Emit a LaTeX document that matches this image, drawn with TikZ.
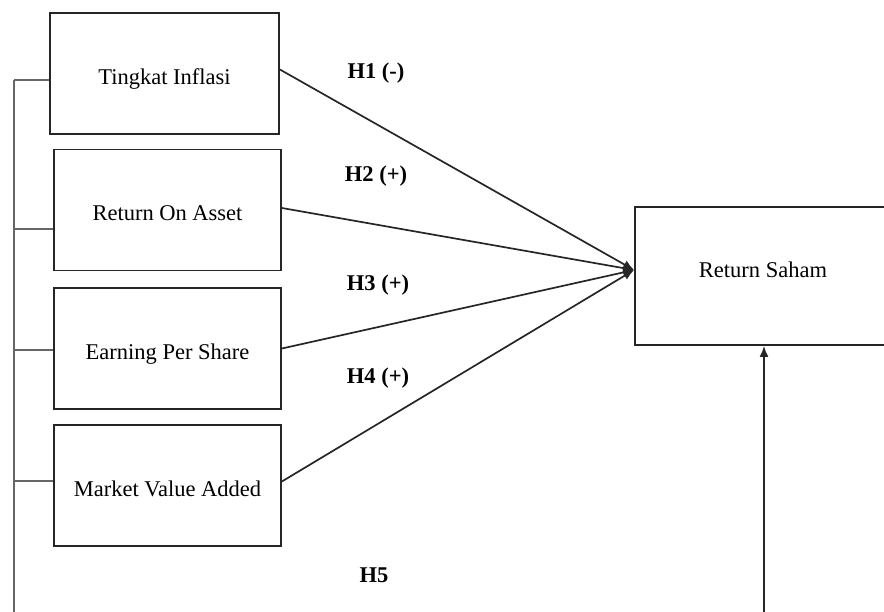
\documentclass[tikz,border=0pt]{standalone}
\usepackage{fontspec}
\setmainfont{Liberation Serif}
\usetikzlibrary{arrows.meta}

\begin{document}
\begin{tikzpicture}[x=1pt,y=-1pt,>={Latex[length=11pt,width=9pt]}]
	\tikzstyle{box}=[rectangle,draw=black!85,line width=1.8pt,minimum width=227pt,minimum height=121pt,text height=22pt,text depth=0pt,font=\fontsize{22.5}{27}\selectfont]
	\tikzstyle{edge}=[draw=black!85, line width=1.7pt]
	\tikzstyle{bus}=[draw=black!60, line width=2.4pt]
	\tikzstyle{hyp}=[font=\fontsize{22.5}{27}\selectfont\bfseries]

	\useasboundingbox (0,0) rectangle (884,612);
	\clip (0,0) rectangle (884,612);

	 \node [box,minimum width=229pt] (infl) at (164.5,73.5) {Tingkat Inflasi};
	 \node [box] (roa) at (167.5,210) {Return On Asset};
	 \node [box] (eps) at (167.5,348.5) {Earning Per Share};
	 \node [box] (mva) at (167.5,485.5) {Market Value Added};
	 \node [box,minimum width=256pt,minimum height=138pt,text height=4pt] (saham) at (763,276) {Return Saham};

	 \node [hyp] (h1) at (376,73) {H1 (-)};
	 \node [hyp] (h2) at (376,176) {H2 (+)};
	 \node [hyp] (h3) at (378,285) {H3 (+)};
	 \node [hyp] (h4) at (378,378) {H4 (+)};
	 \node [hyp] (h5) at (374,575) {H5};

	 \coordinate (b1) at (14,80);
	 \coordinate (b2) at (14,229);
	 \coordinate (b3) at (14,350);
	 \coordinate (b4) at (14,481);
	 \coordinate (bot) at (14,612);
	 \coordinate (rbot) at (764,612);
	 \coordinate (tip) at ([yshift=6pt]saham.west);

	 \path[bus] (b1) -- (bot);
	 \path[bus] (b1) -- (b1 -| infl.west);
	 \path[bus] (b2) -- (b2 -| roa.west);
	 \path[bus] (b3) -- (b3 -| eps.west);
	 \path[bus] (b4) -- (b4 -| mva.west);

	 \path[edge,->] ([yshift=4pt]infl.east) -- (tip);
	 \path[edge,->] ([yshift=2pt]roa.east) -- (tip);
	 \path[edge,->] (eps.east) -- (tip);
	 \path[edge,->] ([yshift=4pt]mva.east) -- (tip);
	 \path[edge,->] (rbot) -- (rbot |- saham.south);

  \end{tikzpicture}
\end{document}
